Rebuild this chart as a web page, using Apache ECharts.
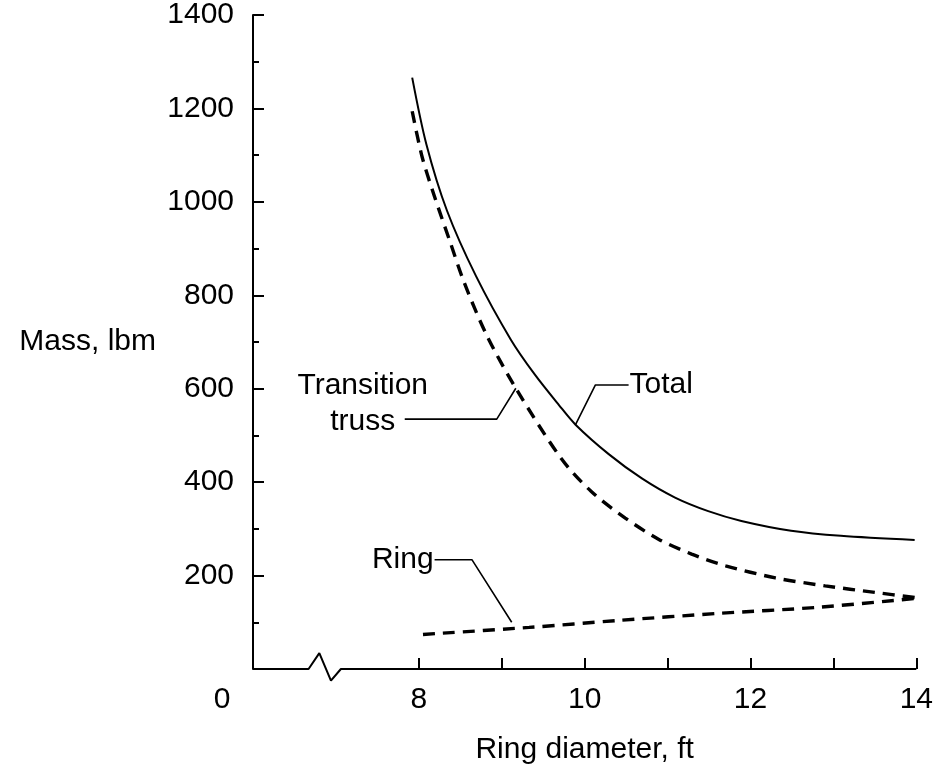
<!DOCTYPE html>
<html>
<head>
<meta charset="utf-8">
<script src="https://cdn.jsdelivr.net/npm/echarts@6/dist/echarts.min.js"></script>
<style>
html,body{margin:0;padding:0;background:#fff;}
#x1{width:936px;height:782px;}
</style>
</head>
<body>
<div id="x1"></div>
<script>
// ring diameter (ft) / mass (lbm)
var totalX = [7.92, 8.09, 8.34, 8.69, 9.11, 9.40, 9.69, 9.89, 10.29, 10.69, 11.09, 11.49, 11.89, 12.49, 13.09, 13.98];
var totalY = [1266, 1124, 981, 841, 705, 630, 565, 523, 460, 408, 367, 338, 317, 296, 285, 276];
var trussX = [7.92, 8.04, 8.19, 8.37, 8.55, 8.82, 9.17, 9.72, 10.08, 10.49, 10.89, 11.29, 11.70, 12.30, 12.90, 13.50, 13.98];
var trussY = [1194, 1096, 1011, 918, 826, 714, 601, 450, 380, 323, 278, 246, 221, 195, 178, 164, 153];
var ringX = [8.05, 9.33, 10.41, 11.61, 12.81, 13.98];
var ringY = [74, 89, 104, 119, 132, 151];

// tick labels
var xLabels = [6, 8, 10, 12, 14];
var xTicks = [8, 9, 10, 11, 12, 13, 14];

// broken x axis baseline
var baseX = [6, 6.67, 6.80, 6.94, 7.06, 14];
var baseY = [0, 0, 34, -25, 0, 0];

// callouts
var trussLead = [[7.83, 535], [8.94, 535], [9.17, 601]];
var totalLead = [[10.53, 608], [10.13, 608], [9.89, 523]];
var ringLead = [[8.19, 234], [8.64, 234], [9.12, 100]];

function pairs(xs, ys) {
	var out = [];
	for (var i = 0; i < xs.length; i++) out.push([xs[i], ys[i]]);
	return out;
}

var font = 'Liberation Sans';
var fs = 30;

function leader(d) {
	return {
		type: 'line', data: d, symbol: 'none', silent: true, z: 3,
		lineStyle: {color: '#000', width: 1.6}
	};
}

var myChart = echarts.init(document.getElementById('x1'));
var option = {
	animation: false,
	backgroundColor: '#fff',
	grid: {left: 253, right: 18, top: 10, bottom: 113},
	xAxis: {
		type: 'value', min: 6, max: 14, interval: 1,
		name: 'Ring diameter, ft', nameLocation: 'middle', nameGap: 66,
		nameTextStyle: {color: '#000', fontFamily: font, fontSize: fs},
		axisLine: {show: false},
		splitLine: {show: false},
		axisTick: {show: true, inside: true, length: 11, customValues: xTicks,
			lineStyle: {color: '#000', width: 2}},
		axisLabel: {
			customValues: xLabels, margin: 16, color: '#000', fontFamily: font, fontSize: fs,
			formatter: function (v) { return v === 6 ? '{z|0}' : String(v); },
			rich: {z: {fontFamily: font, fontSize: fs, color: '#000', padding: [0, 62, 0, 0]}}
		}
	},
	yAxis: {
		type: 'value', min: 0, max: 1400, interval: 200,
		name: 'Mass, lbm', nameLocation: 'middle', nameRotate: 0, nameGap: 97,
		nameTextStyle: {color: '#000', fontFamily: font, fontSize: fs},
		axisLine: {show: true, lineStyle: {color: '#000', width: 2}},
		splitLine: {show: false},
		axisTick: {show: true, inside: true, length: 11, lineStyle: {color: '#000', width: 2}},
		minorTick: {show: true, splitNumber: 2, length: 6, lineStyle: {color: '#000', width: 2}},
		axisLabel: {
			margin: 19, color: '#000', fontFamily: font, fontSize: fs,
			formatter: function (v) { return v === 0 ? '' : String(v); }
		}
	},
	series: [
		{
			name: 'base', type: 'line', data: pairs(baseX, baseY), symbol: 'none',
			silent: true, clip: false, lineStyle: {color: '#000', width: 2}
		},
		{
			name: 'Total', type: 'line', data: pairs(totalX, totalY), symbol: 'none',
			smooth: 0.3, lineStyle: {color: '#000', width: 2}
		},
		{
			name: 'Transition truss', type: 'line', data: pairs(trussX, trussY), symbol: 'none',
			smooth: 0.3, lineStyle: {color: '#000', width: 3.4, type: [12, 8]}
		},
		{
			name: 'Ring', type: 'line', data: pairs(ringX, ringY), symbol: 'none',
			smooth: 0.3, lineStyle: {color: '#000', width: 3.4, type: [12, 8]}
		},
		leader(trussLead),
		leader(totalLead),
		leader(ringLead)
	]
};
myChart.setOption(option);

// callout texts placed at the leader ends
function txt(pt, text, align, dx, dy) {
	var p = myChart.convertToPixel({gridIndex: 0}, pt);
	return {
		type: 'text', x: p[0] + dx, y: p[1] + dy, silent: true,
		style: {text: text, fill: '#000', font: fs + 'px "' + font + '"',
			align: align, verticalAlign: 'middle', lineHeight: 36}
	};
}
myChart.setOption({
	graphic: [
		txt(trussLead[0], 'Transition\ntruss', 'center', -42, -15),
		txt(totalLead[0], 'Total', 'left', 1, 0),
		txt(ringLead[0], 'Ring', 'right', -1, 0)
	]
});
</script>
</body>
</html>
